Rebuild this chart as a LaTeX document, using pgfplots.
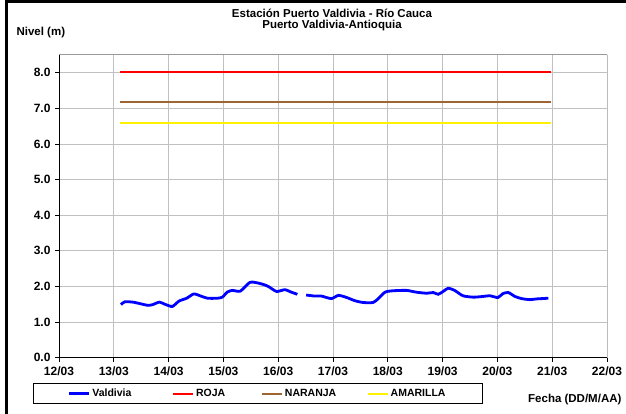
\documentclass[border=0pt]{standalone}
\usepackage{pgfplots}
\pgfplotsset{compat=1.18}
\usepackage{fontspec}
\setmainfont{Liberation Sans}
\definecolor{brownline}{RGB}{158,100,50}
\definecolor{gridgray}{RGB}{192,192,192}
\begin{document}
\begin{tikzpicture}[x=1pt,y=1pt]
\begin{axis}[
  at={(59pt,56.3pt)}, anchor=south west,
  scale only axis, width=548pt, height=302.7pt,
  xmin=12, xmax=22, ymin=0, ymax=8.5,
  xtick={12,...,22},
  xticklabels={12/03,13/03,14/03,15/03,16/03,17/03,18/03,19/03,20/03,21/03,22/03},
  ytick={0,...,8},
  yticklabel style={/pgf/number format/fixed,/pgf/number format/fixed zerofill,/pgf/number format/precision=1, xshift=-1pt},
  /pgf/number format/assume math mode=true,
  ticklabel style={font=\fontsize{12}{14}\selectfont\bfseries},
  xticklabel style={yshift=-2pt},
  axis x line*=bottom, axis y line*=left,
  axis line style={black, line width=0.8pt},
  tick align=outside, major tick length=4pt,
  tick style={black, line width=0.8pt},
  grid=major, major grid style={gridgray, line width=0.9pt},
  unbounded coords=jump,
  legend columns=4,
  legend cell align=left,
  legend style={at={(-0.047,-0.0845)}, anchor=north west, draw=black, line width=0.6pt,
    font=\fontsize{10.5}{12}\selectfont\bfseries, inner xsep=34pt, inner ysep=3.5pt},
  legend image code/.code={\draw[#1] (0pt,0pt) -- (20pt,0pt);},
]
\addplot[blue, line width=2.8pt, smooth, tension=0.4] coordinates {
(13.13,1.49) (13.20,1.57) (13.35,1.56) (13.50,1.51) (13.62,1.47) (13.71,1.49)
(13.83,1.56) (13.95,1.49) (14.07,1.44) (14.19,1.59) (14.33,1.67) (14.46,1.79)
(14.59,1.73) (14.71,1.67) (14.89,1.67) (14.98,1.70) (15.07,1.84) (15.16,1.89)
(15.31,1.87) (15.49,2.12) (15.70,2.07) (15.82,2.00) (15.97,1.86) (16.12,1.91)
(16.24,1.84) (16.35,1.78)
(16.43,nan)
(16.51,1.76) (16.67,1.73) (16.79,1.73) (16.97,1.66) (17.10,1.75) (17.25,1.69)
(17.40,1.60) (17.55,1.55) (17.73,1.55) (17.82,1.65) (17.95,1.84) (18.10,1.88)
(18.34,1.89) (18.52,1.84) (18.71,1.81) (18.83,1.83) (18.92,1.78) (19.01,1.86)
(19.10,1.95) (19.22,1.89) (19.37,1.74) (19.56,1.70) (19.74,1.72) (19.86,1.74)
(20.01,1.69) (20.10,1.80) (20.20,1.83) (20.32,1.72) (20.44,1.66) (20.59,1.63)
(20.71,1.65) (20.93,1.67)
};
\addlegendentry{\makebox[78pt][l]{Valdivia}}
\addplot[red, line width=1.8pt] coordinates {(13.11,8.03) (20.97,8.03)};
\addlegendentry{\makebox[63pt][l]{ROJA}}
\addplot[brownline, line width=1.8pt] coordinates {(13.11,7.19) (20.97,7.19)};
\addlegendentry{\makebox[80pt][l]{NARANJA}}
\addplot[yellow, line width=1.8pt] coordinates {(13.11,6.60) (20.97,6.60)};
\addlegendentry{\makebox[56pt][l]{AMARILLA}}
\draw[gray!80, line width=1pt] (rel axis cs:0,1) -- (rel axis cs:1,1) -- (rel axis cs:1,0);
\end{axis}
\node[font=\fontsize{11.5}{13.5}\selectfont\bfseries, align=center] at (332pt,394.5pt)
  {Estación Puerto Valdivia - Río Cauca\\[-2.5pt]Puerto Valdivia-Antioquia};
\node[font=\fontsize{11.5}{13.5}\selectfont\bfseries, anchor=west] at (13pt,381pt) {Nivel (m)};
\node[font=\fontsize{11.5}{13.5}\selectfont\bfseries, anchor=east] at (625pt,14pt) {Fecha (DD/M/AA)};
\draw[black, line width=3pt] (6.5pt,0pt) -- (6.5pt,412.5pt) -- (626pt,412.5pt);
\pgfresetboundingbox
\useasboundingbox (0,0) rectangle (626pt,414pt);
\end{tikzpicture}
\end{document}
